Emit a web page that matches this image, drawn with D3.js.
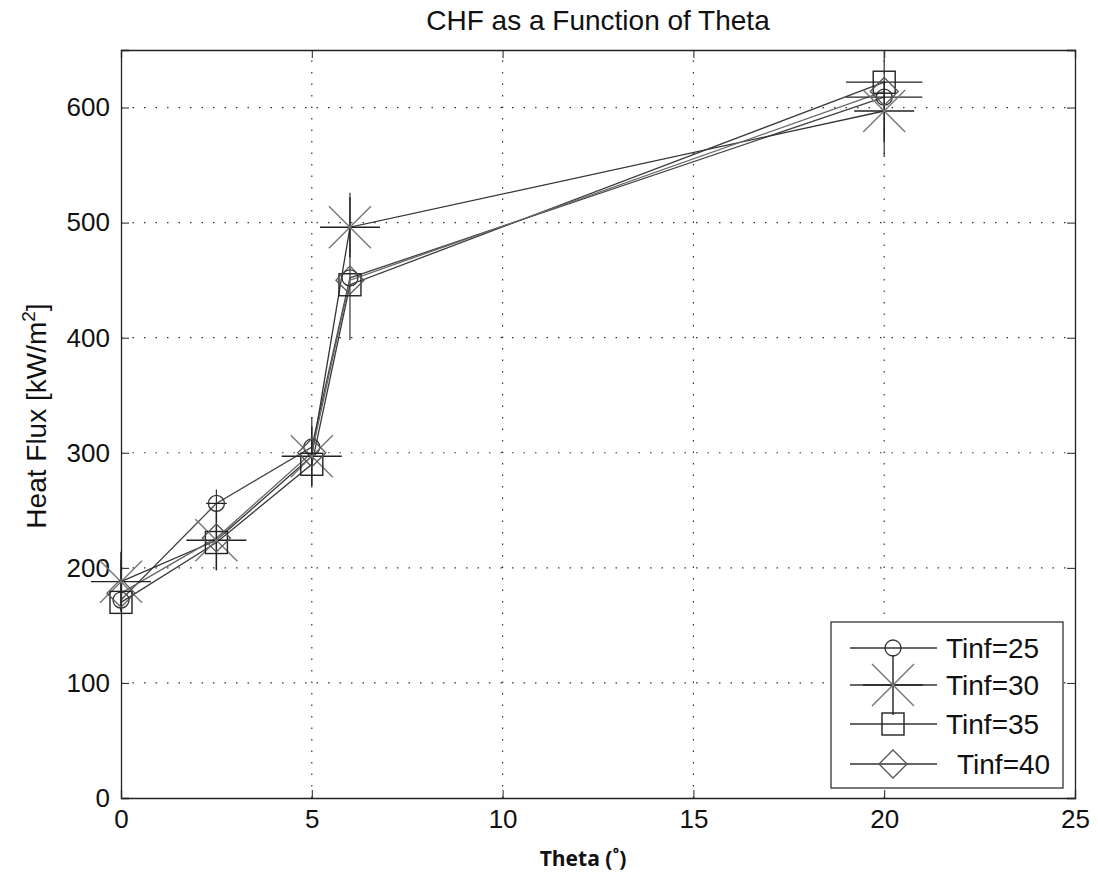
<!DOCTYPE html>
<html>
<head>
<meta charset="utf-8">
<script src="https://cdn.jsdelivr.net/npm/d3@7"></script>
<style>
  body { margin: 0; background: #fff; }
  svg text { font-family: "Liberation Sans", Arial, sans-serif; fill: #111; }
</style>
</head>
<body>
<div id="chart"></div>
<script>
// data
let theta = [0, 2.5, 5, 6, 20];
let seriesNames = ["Tinf=25", "Tinf=30", "Tinf=35", "Tinf=40"];
let markerTypes = ["circle", "asterisk", "square", "diamond"];
let tinf25 = [172, 256, 305, 452, 609];
let tinf30 = [188, 224, 297, 496, 597];
let tinf35 = [170, 222, 290, 446, 622];
let tinf40 = [178, 226, 300, 450, 614];
// vertical range lines at each theta
let rangeLow = [162, 198, 272, 398, 557];
let rangeHigh = [207, 268, 331, 526, 650];
// horizontal bars (theta units) for circle / square series
let barX25 = [0, 0.27, 0, 0, 1.0];
let barX35 = [0, 0, 0, 0, 1.0];
let xTicks = [0, 5, 10, 15, 20, 25];
let yTicks = [0, 100, 200, 300, 400, 500, 600];

let allSeries = [tinf25, tinf30, tinf35, tinf40];
let barSeries = [barX25, null, barX35, null];

let width = 1098, height = 882;
let margin = {left: 121, right: 23, top: 50, bottom: 84};

let svg = d3.select("#chart").append("svg")
    .attr("width", width)
    .attr("height", height);

let x = d3.scaleLinear().domain([0, 25]).range([margin.left, width - margin.right]);
let y = d3.scaleLinear().domain([0, 650]).range([height - margin.bottom, margin.top]);

let x0 = x.range()[0], x1 = x.range()[1];
let y0 = y.range()[0], y1 = y.range()[1];

// grid
let grid = svg.append("g").attr("stroke", "#333").attr("stroke-width", 1.2)
    .attr("stroke-dasharray", "1.5,10");
xTicks.slice(1, -1).forEach(function (t) {
    grid.append("line").attr("x1", x(t)).attr("x2", x(t)).attr("y1", y0).attr("y2", y1);
});
yTicks.slice(1).forEach(function (t) {
    grid.append("line").attr("x1", x0).attr("x2", x1).attr("y1", y(t)).attr("y2", y(t));
});

// axes (ticks inward, like matlab)
let xAxis = svg.append("g").attr("transform", "translate(0," + y0 + ")")
    .call(d3.axisBottom(x).tickValues(xTicks).tickSize(-8).tickPadding(12));
let yAxis = svg.append("g").attr("transform", "translate(" + x0 + ",0)")
    .call(d3.axisLeft(y).tickValues(yTicks).tickSize(-8).tickPadding(11));
let xTop = svg.append("g").attr("transform", "translate(0," + y1 + ")")
    .call(d3.axisTop(x).tickValues(xTicks).tickSize(-8).tickFormat(""));
let yRight = svg.append("g").attr("transform", "translate(" + x1 + ",0)")
    .call(d3.axisRight(y).tickValues(yTicks).tickSize(-8).tickFormat(""));
[xAxis, yAxis, xTop, yRight].forEach(function (a) {
    a.select(".domain").attr("stroke", "#222").attr("stroke-width", 1.3);
    a.selectAll(".tick line").attr("stroke", "#222");
    a.selectAll(".tick text").style("font-size", "26px")
        .style("font-family", "'Liberation Sans', Arial, sans-serif").attr("fill", "#111");
});

// range lines
let plot = svg.append("g");
theta.forEach(function (t, i) {
    plot.append("line")
        .attr("x1", x(t)).attr("x2", x(t))
        .attr("y1", y(rangeLow[i])).attr("y2", y(rangeHigh[i]))
        .attr("stroke", "#333").attr("stroke-width", 1.2);
});

// series lines
let line = d3.line().x(function (d, i) { return x(theta[i]); }).y(function (d) { return y(d); });
let lineColors = ["#444", "#333", "#3a3a3a", "#666"];
allSeries.forEach(function (s, k) {
    plot.append("path").datum(s)
        .attr("d", line)
        .attr("fill", "none")
        .attr("stroke", lineColors[k])
        .attr("stroke-width", 1.3);
});

// horizontal bars
barSeries.forEach(function (b, k) {
    if (!b) return;
    b.forEach(function (w, i) {
        if (w <= 0) return;
        plot.append("line")
            .attr("x1", x(theta[i] - w)).attr("x2", x(theta[i] + w))
            .attr("y1", y(allSeries[k][i])).attr("y2", y(allSeries[k][i]))
            .attr("stroke", "#222").attr("stroke-width", 1.3);
    });
});

function drawMarker(g, type, cx, cy) {
    if (type === "circle") {
        g.append("circle").attr("cx", cx).attr("cy", cy).attr("r", 8)
            .attr("fill", "none").attr("stroke", "#333").attr("stroke-width", 1.3);
    } else if (type === "square") {
        g.append("rect").attr("x", cx - 11).attr("y", cy - 11).attr("width", 22).attr("height", 22)
            .attr("fill", "none").attr("stroke", "#222").attr("stroke-width", 1.4);
    } else if (type === "diamond") {
        g.append("path")
            .attr("d", "M" + cx + "," + (cy - 14) + "L" + (cx + 14) + "," + cy + "L" + cx + "," + (cy + 14) + "L" + (cx - 14) + "," + cy + "Z")
            .attr("fill", "none").attr("stroke", "#555").attr("stroke-width", 1.3);
    } else if (type === "asterisk") {
        let a = 30, d = 21;
        g.append("line").attr("x1", cx - a).attr("x2", cx + a).attr("y1", cy).attr("y2", cy)
            .attr("stroke", "#222").attr("stroke-width", 1.4);
        g.append("line").attr("x1", cx).attr("x2", cx).attr("y1", cy - a).attr("y2", cy + a)
            .attr("stroke", "#222").attr("stroke-width", 1.4);
        g.append("line").attr("x1", cx - d).attr("x2", cx + d).attr("y1", cy - d).attr("y2", cy + d)
            .attr("stroke", "#777").attr("stroke-width", 1.4);
        g.append("line").attr("x1", cx - d).attr("x2", cx + d).attr("y1", cy + d).attr("y2", cy - d)
            .attr("stroke", "#777").attr("stroke-width", 1.4);
    }
}

allSeries.forEach(function (s, k) {
    s.forEach(function (v, i) {
        drawMarker(plot, markerTypes[k], x(theta[i]), y(v));
    });
});

// title
svg.append("text").attr("x", (x0 + x1) / 2).attr("y", 30)
    .attr("text-anchor", "middle").style("font-size", "28px")
    .text("CHF as a Function of Theta");

// x label
svg.append("text").attr("x", 583).attr("y", 866)
    .attr("text-anchor", "middle")
    .style("font-family", "'Open Sans', 'Noto Sans', sans-serif")
    .style("font-weight", "bold").style("font-size", "21px")
    .text("Theta (˚)");

// y label
let yl = svg.append("text")
    .attr("transform", "translate(46,416) rotate(-90)")
    .attr("text-anchor", "middle").style("font-size", "28px");
yl.append("tspan").text("Heat Flux [kW/m");
yl.append("tspan").attr("dy", -11).style("font-size", "19px").text("2");
yl.append("tspan").attr("dy", 11).text("]");

// legend
let lg = svg.append("g");
lg.append("rect").attr("x", 831).attr("y", 622).attr("width", 232).attr("height", 166)
    .attr("fill", "#fff").attr("stroke", "#333").attr("stroke-width", 1.3);
let legY = [648, 685, 724, 764];
seriesNames.forEach(function (name, k) {
    lg.append("line").attr("x1", 850).attr("x2", 937).attr("y1", legY[k]).attr("y2", legY[k])
        .attr("stroke", "#333").attr("stroke-width", 1.3);
    drawMarker(lg, markerTypes[k], 893, legY[k]);
    lg.append("text").attr("x", k === 3 ? 957 : 946).attr("y", legY[k] + 10)
        .style("font-size", "28px").text(name);
});
</script>
</body>
</html>
